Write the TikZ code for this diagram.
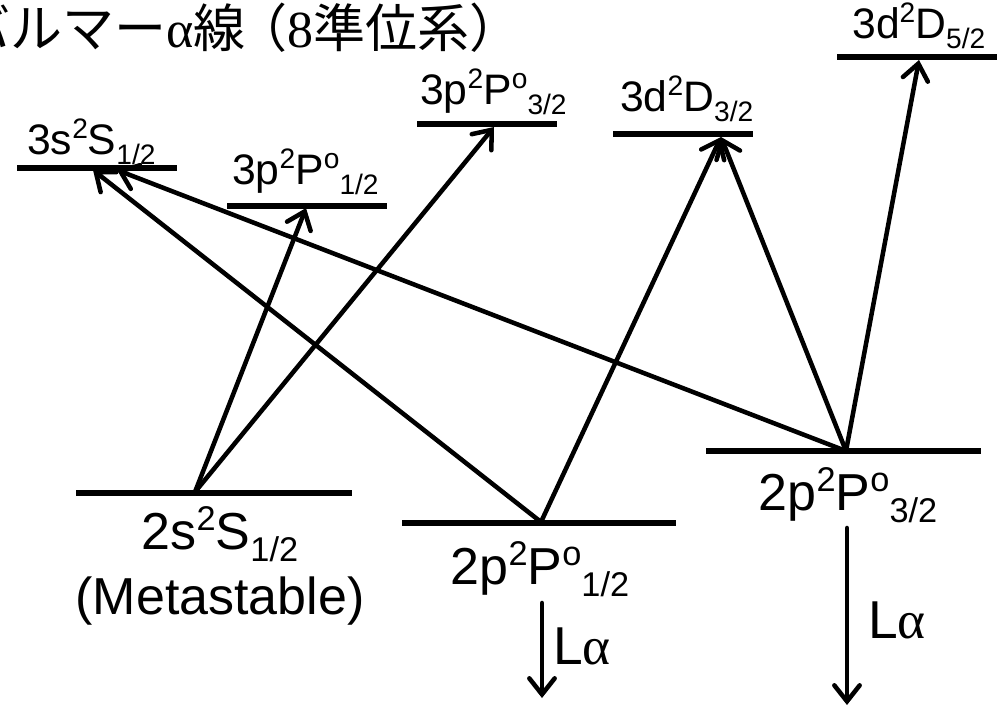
\documentclass[tikz,border=0pt]{standalone}
\usepackage{fontspec}
\setmainfont{Liberation Sans}
\newfontfamily\cjk{Noto Sans CJK JP}
\newfontfamily\serifgr{Liberation Serif}
\usetikzlibrary{arrows.meta}
\newcommand\hi[1]{\raisebox{0.36em}{\scalebox{0.66}{#1}}}
\newcommand\lo[1]{\raisebox{-0.24em}{\scalebox{0.66}{#1}}}
\begin{document}
\begin{tikzpicture}[x=0.75pt,y=-0.75pt,
  level/.style={line width=4.2pt},
  trans/.style={line width=3.4pt,line cap=round,-{Straight Barb[length=12pt,width=19pt,line cap=round]}},
  toplab/.style={anchor=base west,inner sep=0pt,font=\fontsize{32pt}{34pt}\selectfont},
  botlab/.style={anchor=base,inner sep=0pt,font=\fontsize{39pt}{41pt}\selectfont},
  lalab/.style={anchor=base west,inner sep=0pt,font=\fontsize{40pt}{42pt}\selectfont}]
\useasboundingbox (0,0) rectangle (999,707);
% title
\node[anchor=base west,inner sep=0pt,font=\fontsize{39pt}{41pt}\selectfont] (title) at (-42,47)
  {\cjk バルマー\serifgr α\cjk 線\kern-0.2em（\serifgr 8\cjk 準位系）};
% level endpoints
\coordinate (s3L) at (17,168);  \coordinate (s3R) at (177,168);
\coordinate (p31L) at (227,206); \coordinate (p31R) at (387,206);
\coordinate (p33L) at (417,124); \coordinate (p33R) at (557,124);
\coordinate (d33L) at (613,134); \coordinate (d33R) at (753,134);
\coordinate (d35L) at (837,57);  \coordinate (d35R) at (997,57);
\coordinate (s2L) at (76,493);   \coordinate (s2R) at (352,493);
\coordinate (p21L) at (402,523); \coordinate (p21R) at (676,523);
\coordinate (p23L) at (706,451); \coordinate (p23R) at (981,451);
\foreach \a/\b in {s3L/s3R,p31L/p31R,p33L/p33R,d33L/d33R,d35L/d35R,s2L/s2R,p21L/p21R,p23L/p23R}
  \draw[level] (\a) -- (\b);
% labels
\node[toplab] (ls3) at (27,154) {3s\hi{2}S\lo{1/2}};
\node[toplab] (lp31) at (232,184) {3p\hi{2}P\hi{o}\lo{1/2}};
\node[toplab] (lp33) at (420,104) {3p\hi{2}P\hi{o}\lo{3/2}};
\node[toplab] (ld33) at (620,111) {3d\hi{2}D\lo{3/2}};
\node[toplab] (ld35) at (852,38) {3d\hi{2}D\lo{5/2}};
\node[botlab] (ls2) at (220,549) {2s\hi{2}S\lo{1/2}};
\node[botlab] (lmeta) at (220,614) {(Metastable)};
\node[botlab] (lp21) at (540,584) {2p\hi{2}P\hi{o}\lo{1/2}};
\node[botlab] (lp23) at (848,510) {2p\hi{2}P\hi{o}\lo{3/2}};
% transition points
\coordinate (s2o) at (195,492);
\coordinate (p21o) at (541,522);
\coordinate (p23o) at (846,451);
\coordinate (t31) at (306,208);
\coordinate (t33) at (494,127);
\coordinate (ts3a) at (93,170);
\coordinate (ts3b) at (117,170);
\coordinate (td33) at (721,137);
\coordinate (td35) at (919,60);
\draw[trans] (s2o) -- (t31);
\draw[trans] (s2o) -- (t33);
\draw[trans] (p21o) -- (ts3a);
\draw[trans] (p21o) -- (td33);
\draw[trans] (p23o) -- (ts3b);
\draw[trans] (p23o) -- (td33);
\draw[trans] (p23o) -- (td35);
% Lyman alpha
\coordinate (la1s) at (542,603); \coordinate (la1e) at (542,698);
\coordinate (la2s) at (847,528); \coordinate (la2e) at (847,705);
\draw[trans] (la1s) -- (la1e);
\draw[trans] (la2s) -- (la2e);
\node[lalab] (lla1) at (553,664) {L\serifgr α};
\node[lalab] (lla2) at (868,638) {L\serifgr α};
\end{tikzpicture}
\end{document}
